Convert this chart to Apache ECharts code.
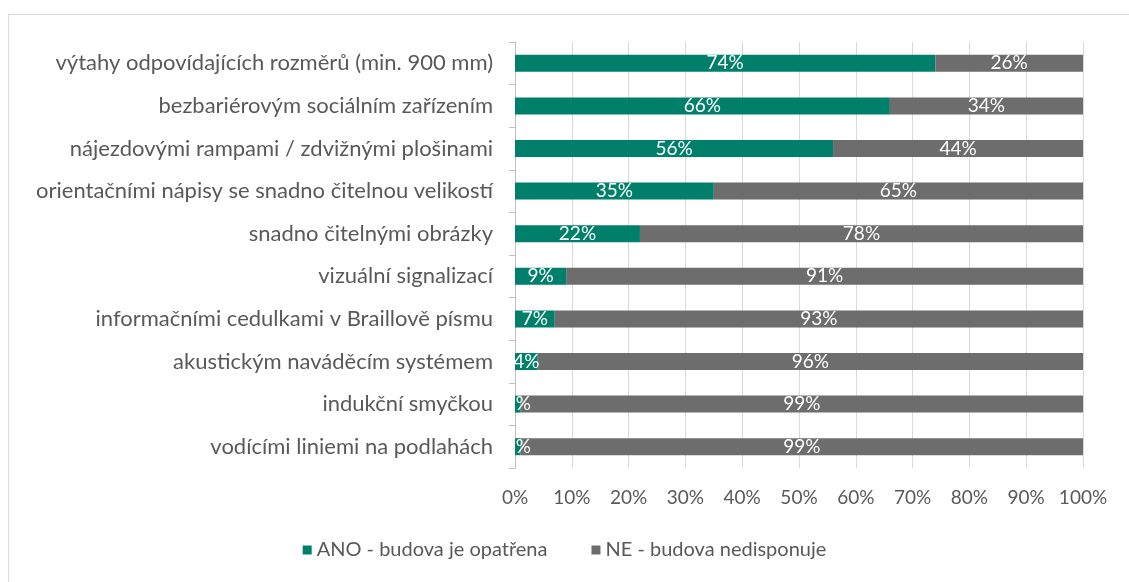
<!DOCTYPE html>
<html><head><meta charset="utf-8">
<script src="https://cdn.jsdelivr.net/npm/echarts@6/dist/echarts.min.js"></script>
<style>html,body{margin:0;padding:0;background:#fff}#c{width:1129px;height:582px}</style>
</head><body><div id="c"></div>
<script>
const categories = [
  "výtahy odpovídajících rozměrů (min. 900 mm)",
  "bezbariérovým sociálním zařízením",
  "nájezdovými rampami / zdvižnými plošinami",
  "orientačními nápisy se snadno čitelnou velikostí",
  "snadno čitelnými obrázky",
  "vizuální signalizací",
  "informačními cedulkami v Braillově písmu",
  "akustickým naváděcím systémem",
  "indukční smyčkou",
  "vodícími liniemi na podlahách"
];
const anoValues = [74, 66, 56, 35, 22, 9, 7, 4, 1, 1];
const neValues = [26, 34, 44, 65, 78, 91, 93, 96, 99, 99];
const seriesNames = ["ANO - budova je opatřena", "NE - budova nedisponuje"];
const xTicks = [0, 10, 20, 30, 40, 50, 60, 70, 80, 90, 100];

const font = "Lato";
const chart = echarts.init(document.getElementById('c'));
const lbl = {show: true, position: 'inside', color: '#fff', fontFamily: font, fontSize: 19, formatter: p => p.value + '%'};
chart.setOption({
  animation: false,
  graphic: [{type: 'rect', shape: {x: 8.5, y: 14.5, width: 1140, height: 600}, style: {fill: 'none', stroke: '#d9d9d9', lineWidth: 1}}],
  grid: {left: 515, right: 46, top: 42, bottom: 114},
  legend: {
    bottom: 17, left: 'center', itemWidth: 9, itemHeight: 9, itemGap: 44, icon: 'rect',
    textStyle: {color: '#595959', fontFamily: font, fontSize: 20}
  },
  xAxis: {
    type: 'value', min: 0, max: 100, interval: 10,
    axisLine: {show: false}, axisTick: {show: false},
    splitLine: {lineStyle: {color: '#d9d9d9', width: 1}},
    axisLabel: {formatter: v => v + '%', color: '#595959', fontFamily: font, fontSize: 19, margin: 20}
  },
  yAxis: {
    type: 'category', data: categories, inverse: true,
    axisLine: {lineStyle: {color: '#bfbfbf'}},
    axisTick: {show: true, length: 6, lineStyle: {color: '#bfbfbf'}},
    axisLabel: {color: '#595959', fontFamily: font, fontSize: 22, margin: 22}
  },
  series: [
    {name: seriesNames[0], type: 'bar', stack: 's', data: anoValues, barWidth: 17, itemStyle: {color: '#00806b'}, label: lbl},
    {name: seriesNames[1], type: 'bar', stack: 's', data: neValues, barWidth: 17, itemStyle: {color: '#6d6d6d'}, label: lbl}
  ]
});
</script></body></html>
